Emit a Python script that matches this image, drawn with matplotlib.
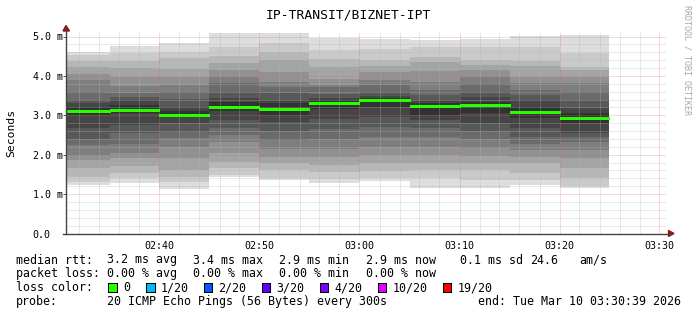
import pandas as pd
import matplotlib
matplotlib.use("Agg")
import matplotlib.pyplot as plt
import matplotlib.dates as mdates
from matplotlib.patches import Rectangle, Polygon
from matplotlib.lines import Line2D

# rrdtool draws crisp, non-antialiased areas
plt.rcParams["patch.antialiased"] = False

W, H = 697, 315
MONO = "DejaVu Sans Mono"

# ---------- data (ms) ----------
slot_start = pd.date_range("2026-03-10 02:30", periods=11, freq="5min")
slot_len = pd.Timedelta(minutes=5)
view_start = pd.Timestamp("2026-03-10 02:30:39")
view_end = pd.Timestamp("2026-03-10 03:30:39")

median_ms = [3.10, 3.13, 3.00, 3.20, 3.17, 3.31, 3.38, 3.24, 3.26, 3.08, 2.94]

# 20 sorted ping rtts for every 5 minute slot
ping_ms = [
    [1.23, 1.31, 1.44, 1.65, 1.87, 1.99, 2.25, 2.39, 2.69, 3.02, 3.20, 3.30, 3.39, 3.60, 3.90, 4.05, 4.23, 4.39, 4.53, 4.61],
    [1.27, 1.40, 1.54, 1.71, 1.91, 2.04, 2.27, 2.54, 2.75, 3.05, 3.26, 3.40, 3.47, 3.56, 3.75, 3.98, 4.19, 4.39, 4.57, 4.77],
    [1.12, 1.31, 1.44, 1.61, 1.91, 2.20, 2.42, 2.58, 2.80, 2.95, 3.10, 3.22, 3.41, 3.60, 3.77, 3.97, 4.17, 4.45, 4.61, 4.84],
    [1.44, 1.48, 1.65, 1.82, 2.04, 2.33, 2.50, 2.67, 2.88, 3.10, 3.35, 3.45, 3.60, 3.81, 3.98, 4.15, 4.34, 4.50, 4.74, 5.10],
    [1.36, 1.42, 1.60, 1.78, 1.95, 2.15, 2.38, 2.60, 2.82, 3.00, 3.30, 3.39, 3.57, 3.71, 3.85, 4.11, 4.40, 4.61, 4.83, 5.08],
    [1.28, 1.38, 1.55, 1.75, 1.95, 2.15, 2.40, 2.65, 2.90, 3.15, 3.40, 3.43, 3.55, 3.71, 3.77, 3.92, 4.23, 4.42, 4.67, 4.97],
    [1.33, 1.42, 1.58, 1.78, 1.98, 2.20, 2.45, 2.70, 2.95, 3.20, 3.45, 3.50, 3.60, 3.77, 3.90, 4.10, 4.25, 4.40, 4.68, 4.94],
    [1.15, 1.40, 1.61, 1.80, 1.99, 2.19, 2.46, 2.67, 2.88, 3.01, 3.32, 3.39, 3.52, 3.64, 3.85, 4.13, 4.36, 4.47, 4.74, 4.91],
    [1.15, 1.36, 1.61, 1.78, 1.97, 2.16, 2.40, 2.61, 2.81, 3.07, 3.35, 3.46, 3.60, 3.79, 3.98, 4.15, 4.28, 4.40, 4.74, 4.94],
    [1.23, 1.36, 1.53, 1.78, 1.95, 2.12, 2.27, 2.44, 2.67, 2.92, 3.22, 3.39, 3.52, 3.64, 3.82, 3.98, 4.25, 4.39, 4.74, 5.01],
    [1.16, 1.20, 1.40, 1.65, 1.91, 2.12, 2.33, 2.46, 2.56, 2.80, 3.05, 3.18, 3.39, 3.60, 3.82, 3.96, 4.15, 4.23, 4.59, 5.05],
]

y_ticks = [0, 1, 2, 3, 4, 5]
y_labels = ["0.0", "1.0 m", "2.0 m", "3.0 m", "4.0 m", "5.0 m"]

loss_labels = ["0", "1/20", "2/20", "3/20", "4/20", "10/20", "19/20"]
loss_colors = ["#26ff00", "#00b8ff", "#0059ff", "#5e00ff", "#7e00ff", "#dd00ff", "#ff0000"]

rtt_line = [("median rtt:", 16), ("3.2 ms avg", 107), ("3.4 ms max", 193), ("2.9 ms min", 279),
            ("2.9 ms now", 366), ("0.1 ms sd", 460), ("24.6", 530), ("am/s", 579)]
loss_line = [("packet loss:", 16), ("0.00 % avg", 107), ("0.00 % max", 193),
             ("0.00 % min", 279), ("0.00 % now", 366)]
probe_line = [("probe:", 16), ("20 ICMP Echo Pings (56 Bytes) every 300s", 107),
              ("end: Tue Mar 10 03:30:39 2026", 478)]


def fx(x):
    return x / W


def fy(y):
    return 1 - y / H


# ---------- figure ----------
fig = plt.figure(figsize=(W / 100, H / 100), dpi=100)
ax_top, ax_bot = 32.0, 233.5
ax = fig.add_axes([fx(66), fy(ax_bot), 600 / W, (ax_bot - ax_top) / H])
ax.set_facecolor("white")

# step edges of the 5 minute slots (last value repeated for step='post')
edges = mdates.date2num(list(slot_start) + [slot_start[-1] + slot_len])

# smoke: band k goes from ping k to ping (21-k), darker towards the middle
n = 20
half = n // 2
for k in range(half):
    g = int(190 / half * (half - (k + 1))) + 50
    col = "#%02x%02x%02x" % (g, g, g)
    lo = [p[k] for p in ping_ms]
    hi = [p[n - 1 - k] for p in ping_ms]
    ax.fill_between(edges, lo + lo[-1:], hi + hi[-1:], step="post", color=col,
                    linewidth=0, antialiased=False, zorder=1)

# median line, coloured by loss (0 loss -> green)
ax.hlines(median_ms, edges[:-1], edges[1:], color=loss_colors[0], lw=2.16, zorder=4,
          antialiased=False)

ax.set_xlim(mdates.date2num(view_start), mdates.date2num(view_end))
ax.set_ylim(0, (ax_bot - ax_top) / 39.4)

# grid
ax.xaxis.set_major_locator(mdates.MinuteLocator(byminute=range(0, 60, 10)))
ax.xaxis.set_minor_locator(mdates.MinuteLocator(byminute=range(0, 60, 2)))
ax.xaxis.set_major_formatter(mdates.DateFormatter("%H:%M"))
ax.set_yticks(y_ticks, y_labels)
ax.set_yticks([v / 5 for v in range(0, 26)], minor=True)
ax.set_axisbelow(False)
ax.grid(which="minor", color="#b4b4b4", alpha=0.6, linestyle=(0, (1, 1)), lw=0.72)
ax.grid(which="major", color="#dd6a6a", alpha=0.5, linestyle=(0, (1, 1)), lw=0.72)

for s in ax.spines.values():
    s.set_visible(False)

ax.tick_params(axis="x", which="major", length=0, pad=5.5, labelsize=7.2, labelcolor="#000000")
ax.tick_params(axis="x", which="minor", length=0)
ax.tick_params(axis="y", which="major", length=2.5, width=0.72, color="#555555", direction="out",
               pad=21.5, labelsize=7.2)
ax.tick_params(axis="y", which="minor", length=0)
for lab in ax.get_xticklabels() + ax.get_yticklabels():
    lab.set_fontfamily(MONO)
for lab in ax.get_yticklabels():
    lab.set_ha("left")

ax.set_ylabel("Seconds", fontsize=8.2, family=MONO)
ax.yaxis.set_label_coords((16.5 - 66) / 600, 0.5)

# axis lines with arrows (rrdtool style)
fig.add_artist(Line2D([fx(66), fx(66)], [fy(234), fy(29)], color="#444444", lw=1.0))
fig.add_artist(Line2D([fx(63), fx(670)], [fy(233.5), fy(233.5)], color="#444444", lw=1.0))
fig.add_artist(Polygon([[fx(66), fy(25.5)], [fx(63), fy(31)], [fx(69.5), fy(31)]],
                       closed=True, color="#8b1a1a", antialiased=True, transform=fig.transFigure))
fig.add_artist(Polygon([[fx(674), fy(233.5)], [fx(668.5), fy(230.5)], [fx(668.5), fy(236.5)]],
                       closed=True, color="#8b1a1a", antialiased=True, transform=fig.transFigure))

# title & watermark
fig.text(0.5, fy(18.3), "IP-TRANSIT/BIZNET-IPT", ha="center", va="baseline",
         fontsize=9.4, family=MONO)
fig.text(fx(687.5), fy(60), "RRDTOOL / TOBI OETIKER", rotation=270, ha="center", va="center",
         fontsize=6.0, family=MONO, color="#a8a8a8")

# legend lines
fs = 8.4
for txt, x in rtt_line:
    fig.text(fx(x), fy(263.5), txt, fontsize=fs, family=MONO, va="baseline")
for txt, x in loss_line:
    fig.text(fx(x), fy(277.3), txt, fontsize=fs, family=MONO, va="baseline")
fig.text(fx(16), fy(291.3), "loss color:", fontsize=fs, family=MONO, va="baseline")
box_x = [108, 146, 203.5, 261.5, 319.5, 377.5, 442.5]
for lbl, col, x in zip(loss_labels, loss_colors, box_x):
    fig.add_artist(Rectangle((fx(x), fy(291.5)), 8.5 / W, 8.5 / H, facecolor=col,
                             edgecolor="#000000", lw=0.7, transform=fig.transFigure))
    fig.text(fx(x + 15), fy(291.3), lbl, fontsize=fs, family=MONO, va="baseline")
for txt, x in probe_line:
    fig.text(fx(x), fy(305), txt, fontsize=fs, family=MONO, va="baseline")

fig.savefig("out.png", dpi=100, facecolor="white")
